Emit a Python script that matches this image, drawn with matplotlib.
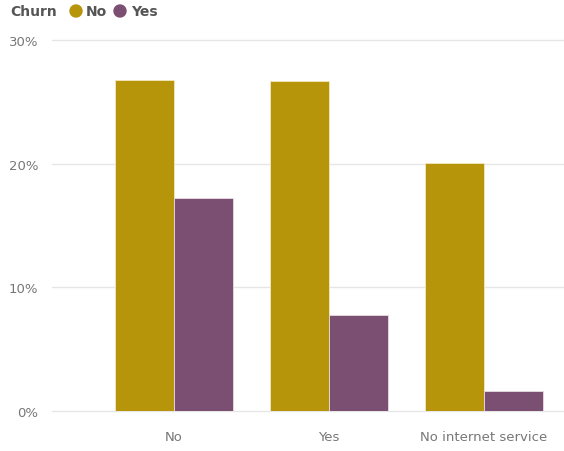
import matplotlib
matplotlib.use("Agg")
import matplotlib.pyplot as plt
import numpy as np
from matplotlib.ticker import FuncFormatter

categories = ["No", "Yes", "No internet service"]
series_names = ["No", "Yes"]
churn_no = [26.75, 26.65, 20.06]
churn_yes = [17.19, 7.74, 1.60]
yticks = [0, 10, 20, 30]

colors = ["#B7950B", "#7B4F71"]

fig = plt.figure(figsize=(5.64, 4.52), dpi=100)
ax = fig.add_axes([52/564, 1-412/452, 1-52/564, (412-41)/452])

x = np.arange(len(categories))
w = 0.38
ax.bar(x - w/2, churn_no, width=w, color=colors[0], edgecolor="#F3E9C0", linewidth=0.6, zorder=3)
ax.bar(x + w/2, churn_yes, width=w, color=colors[1], edgecolor="#E8DCE4", linewidth=0.6, zorder=3)

ax.set_xlim(-0.787, 2.516)
ax.set_ylim(0, 30)
ax.set_yticks(yticks)
ax.yaxis.set_major_formatter(FuncFormatter(lambda v, p: f"{int(v)}%"))
ax.set_xticks(x)
ax.set_xticklabels(categories)
ax.grid(axis="y", color="#E6E6E6", linewidth=1, zorder=0)
for gl in ax.get_ygridlines():
    gl.set_clip_on(False)
for s in ax.spines.values():
    s.set_visible(False)
ax.tick_params(axis="both", length=0, labelsize=9.5, colors="#777777")
ax.tick_params(axis="y", pad=10)
ax.tick_params(axis="x", pad=14)

# Legend
fig.text(10/564, 1-12/452, "Churn", fontsize=10, fontweight="bold", color="#555555", va="center", ha="left")
fig.text(86/564, 1-12/452, "No", fontsize=10, fontweight="bold", color="#555555", va="center", ha="left")
fig.text(131/564, 1-12/452, "Yes", fontsize=10, fontweight="bold", color="#555555", va="center", ha="left")
for cx, c in [(76, colors[0]), (120, colors[1])]:
    fig.patches.append(matplotlib.patches.Ellipse((cx/564, 1-12/452), 12/564, 12/452,
                                                   transform=fig.transFigure, color=c, figure=fig))

fig.savefig("out.png", dpi=100)
